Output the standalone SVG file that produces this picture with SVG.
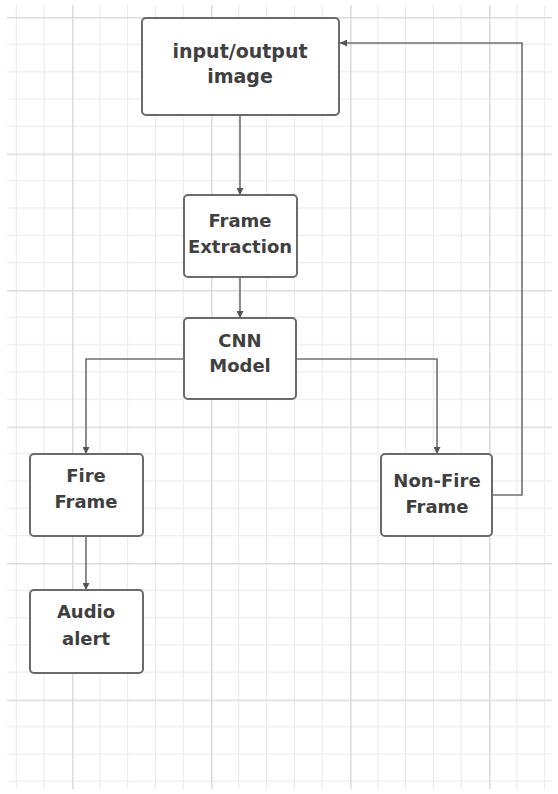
<svg xmlns="http://www.w3.org/2000/svg" width="558" height="794" viewBox="0 0 558 794">
  <style>
    .box { fill: #ffffff; stroke: #6a6a6a; stroke-width: 2; }
    .lbl { font-family: "DejaVu Sans", "Liberation Sans", sans-serif; font-weight: bold; font-size: 18px; fill: #404040; text-anchor: middle; }
    .conn { fill: none; stroke: #707070; stroke-width: 1.6; }
  </style>
  <defs>
    <pattern id="grid" patternUnits="userSpaceOnUse" x="72" y="290" width="139" height="136.5">
      <g stroke="#ececec" stroke-width="1.2">
        <line x1="27.8" y1="0" x2="27.8" y2="136.5"/>
        <line x1="55.6" y1="0" x2="55.6" y2="136.5"/>
        <line x1="83.4" y1="0" x2="83.4" y2="136.5"/>
        <line x1="111.2" y1="0" x2="111.2" y2="136.5"/>
        <line x1="0" y1="27.3" x2="139" y2="27.3"/>
        <line x1="0" y1="54.6" x2="139" y2="54.6"/>
        <line x1="0" y1="81.9" x2="139" y2="81.9"/>
        <line x1="0" y1="109.2" x2="139" y2="109.2"/>
      </g>
      <g stroke="#dcdcdc" stroke-width="1.6">
        <line x1="0.8" y1="0" x2="0.8" y2="136.5"/>
        <line x1="0" y1="0.8" x2="139" y2="0.8"/>
      </g>
    </pattern>
    <marker id="arr" viewBox="0 0 10 10" refX="10" refY="5" markerWidth="7" markerHeight="7" markerUnits="userSpaceOnUse" orient="auto">
      <path d="M0,0 L10,5 L0,10 z" fill="#555555"/>
    </marker>
  </defs>

  <rect x="0" y="0" width="558" height="794" fill="#ffffff"/>
  <rect x="7" y="5" width="545" height="784" fill="url(#grid)"/>

  <g id="connectors">
    <path class="conn" d="M240,115 V195" marker-end="url(#arr)"/>
    <path class="conn" d="M240,277 V318" marker-end="url(#arr)"/>
    <path class="conn" d="M184,359 H86 V454" marker-end="url(#arr)"/>
    <path class="conn" d="M296,359 H437 V454" marker-end="url(#arr)"/>
    <path class="conn" d="M492,495 H522 V43 H340" marker-end="url(#arr)"/>
    <path class="conn" d="M86,536 V590" marker-end="url(#arr)"/>
  </g>

  <g id="input-output">
    <rect class="box" x="142" y="18" width="197" height="97" rx="4"/>
    <text class="lbl" x="240" y="58" style="font-size:19px">input/output</text>
    <text class="lbl" x="240" y="83" style="font-size:19px">image</text>
  </g>

  <g id="frame-extraction">
    <rect class="box" x="184" y="195" width="113" height="82" rx="4"/>
    <text class="lbl" x="240" y="227">Frame</text>
    <text class="lbl" x="240" y="253">Extraction</text>
  </g>

  <g id="cnn-model">
    <rect class="box" x="184" y="318" width="112" height="81" rx="4"/>
    <text class="lbl" x="240" y="347">CNN</text>
    <text class="lbl" x="240" y="372">Model</text>
  </g>

  <g id="fire-frame">
    <rect class="box" x="30" y="454" width="113" height="82" rx="4"/>
    <text class="lbl" x="86" y="482">Fire</text>
    <text class="lbl" x="86" y="508">Frame</text>
  </g>

  <g id="non-fire-frame">
    <rect class="box" x="381" y="454" width="111" height="82" rx="4"/>
    <text class="lbl" x="437" y="487">Non-Fire</text>
    <text class="lbl" x="437" y="513">Frame</text>
  </g>

  <g id="audio-alert">
    <rect class="box" x="30" y="590" width="113" height="83" rx="4"/>
    <text class="lbl" x="86" y="618">Audio</text>
    <text class="lbl" x="86" y="645">alert</text>
  </g>
</svg>
